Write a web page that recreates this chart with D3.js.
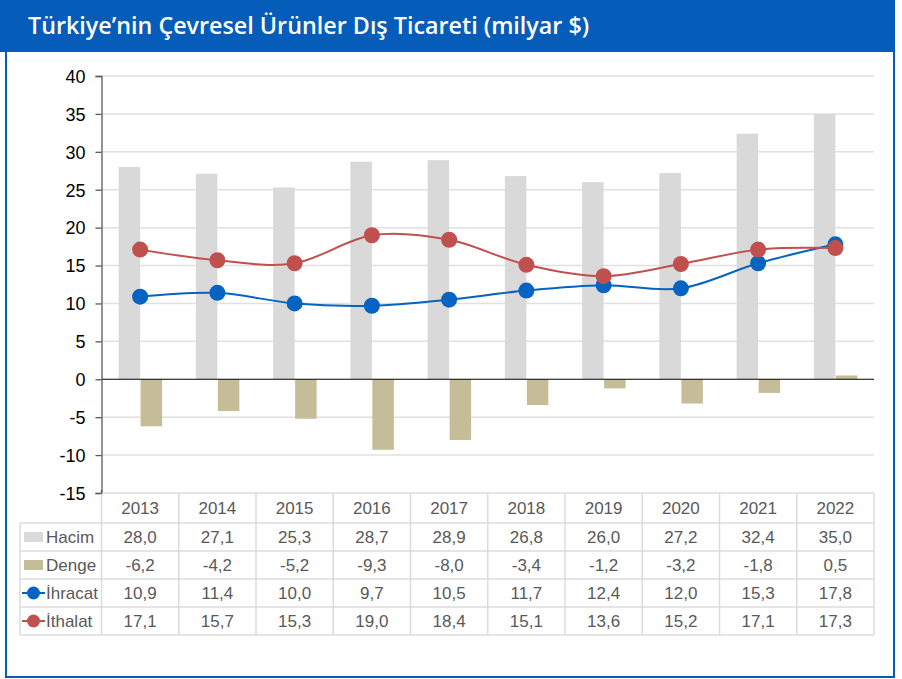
<!DOCTYPE html>
<html>
<head>
<meta charset="utf-8">
<script src="https://cdn.jsdelivr.net/npm/d3@7/dist/d3.min.js"></script>
<style>
  html, body { margin: 0; padding: 0; background: #fff; }
  svg { display: block; }
</style>
</head>
<body>
<svg id="chart" width="902" height="679"></svg>
<script>
// Türkiye'nin çevresel ürünler dış ticareti, milyar $
const years   = ["2013","2014","2015","2016","2017","2018","2019","2020","2021","2022"];
const hacim   = [28.0, 27.1, 25.3, 28.7, 28.9, 26.8, 26.0, 27.2, 32.4, 35.0];
const denge   = [-6.2, -4.2, -5.2, -9.3, -8.0, -3.4, -1.2, -3.2, -1.8, 0.5];
const ihracat = [10.9, 11.4, 10.0, 9.7, 10.5, 11.7, 12.4, 12.0, 15.3, 17.8];
const ithalat = [17.1, 15.7, 15.3, 19.0, 18.4, 15.1, 13.6, 15.2, 17.1, 17.3];
const yTicks  = [-15, -10, -5, 0, 5, 10, 15, 20, 25, 30, 35, 40];
const title   = "Türkiye’nin Çevresel Ürünler Dış Ticareti (milyar $)";

const colors = { frame: "#055cb9", hacim: "#d9d9d9", denge: "#c4bd97", ihracat: "#0563c1", ithalat: "#c0504d", grid: "#e0e0e0", text: "#595959" };

const svg = d3.select("#chart");
const fmt = v => v.toFixed(1).replace(".", ",");
const tFont = "'Liberation Sans', Arial, sans-serif";

// frame and header band
svg.append("rect").attr("x", 6).attr("y", 1).attr("width", 888).attr("height", 676)
  .attr("fill", "#fff").attr("stroke", colors.frame).attr("stroke-width", 2);
svg.append("rect").attr("x", 0).attr("y", 0).attr("width", 895).attr("height", 52).attr("fill", colors.frame);
svg.append("text").attr("x", 28).attr("y", 34)
  .attr("font-family", "'Open Sans', 'Noto Sans', sans-serif").attr("font-weight", 600)
  .attr("font-size", 23.3).attr("fill", "#fff").text(title);

// scales
const x = d3.scaleBand().domain(years).range([101.5, 874]);
const y = d3.scaleLinear().domain([-15, 40]).range([493, 76]);
const barW = 21.5;
const cx = d => x(d) + x.bandwidth() / 2;

// horizontal gridlines
svg.append("g").selectAll("line").data(yTicks.filter(t => t !== 0 && t !== -15)).join("line")
  .attr("x1", 101.5).attr("x2", 874).attr("y1", d => y(d)).attr("y2", d => y(d))
  .attr("stroke", colors.grid).attr("stroke-width", 1.5);

// Hacim bars
svg.append("g").selectAll("rect").data(years).join("rect")
  .attr("x", (d) => cx(d) - barW).attr("width", barW)
  .attr("y", (d, i) => y(Math.max(0, hacim[i])))
  .attr("height", (d, i) => Math.abs(y(hacim[i]) - y(0)))
  .attr("fill", colors.hacim);

// Denge bars
svg.append("g").selectAll("rect").data(years).join("rect")
  .attr("x", (d) => cx(d) + 0.5).attr("width", barW)
  .attr("y", (d, i) => y(Math.max(0, denge[i])))
  .attr("height", (d, i) => Math.abs(y(denge[i]) - y(0)))
  .attr("fill", colors.denge);

// zero line
svg.append("line").attr("x1", 101.5).attr("x2", 874).attr("y1", y(0)).attr("y2", y(0))
  .attr("stroke", "#000").attr("stroke-width", 1.2);

// y axis (plain hyphen for negatives)
const yAxis = d3.axisLeft(y).tickValues(yTicks).tickSize(6).tickPadding(10).tickFormat(d => String(d));
const ga = svg.append("g").attr("transform", "translate(101.5,0)").call(yAxis);
ga.select(".domain").attr("stroke", "#595959").attr("stroke-width", 1.3);
ga.selectAll(".tick line").attr("stroke", "#595959").attr("stroke-width", 1.3);
ga.selectAll(".tick text").attr("font-family", tFont)
  .attr("font-size", 18).attr("fill", "#000").attr("dy", "0.35em");

// smoothed series lines with markers
const line = d3.line().x((d, i) => cx(years[i])).y(d => y(d)).curve(d3.curveCatmullRom.alpha(0));
[[ihracat, colors.ihracat], [ithalat, colors.ithalat]].forEach(([vals, c]) => {
  svg.append("path").datum(vals).attr("d", line).attr("fill", "none")
    .attr("stroke", c).attr("stroke-width", 2);
});
[[ihracat, colors.ihracat], [ithalat, colors.ithalat]].forEach(([vals, c]) => {
  svg.append("g").selectAll("circle").data(vals).join("circle")
    .attr("cx", (d, i) => cx(years[i])).attr("cy", d => y(d)).attr("r", 8).attr("fill", c);
});

// data table
const rowTop = [493, 523, 551, 579, 607, 635];
const tg = svg.append("g");
const tableStroke = "#dcdcdc";
tg.append("line").attr("x1", 101.5).attr("x2", 874).attr("y1", 493).attr("y2", 493)
  .attr("stroke", tableStroke).attr("stroke-width", 1.5);
tg.selectAll("line.h").data(rowTop.slice(1)).join("line").attr("class", "h")
  .attr("x1", 20).attr("x2", 874).attr("y1", d => d).attr("y2", d => d)
  .attr("stroke", tableStroke).attr("stroke-width", 1.5);
const vx = years.map(d => x(d)).concat([874]);
tg.selectAll("line.v").data(vx).join("line").attr("class", "v")
  .attr("x1", d => d).attr("x2", d => d).attr("y1", 493).attr("y2", 635)
  .attr("stroke", tableStroke).attr("stroke-width", 1.5);
tg.append("line").attr("x1", 20).attr("x2", 20).attr("y1", 523).attr("y2", 635)
  .attr("stroke", tableStroke).attr("stroke-width", 1.5);
svg.append("line").attr("x1", 101.5).attr("x2", 101.5).attr("y1", 490).attr("y2", 494)
  .attr("stroke", "#595959").attr("stroke-width", 1.3);

// year header
tg.selectAll("text.yr").data(years).join("text").attr("class", "yr")
  .attr("x", d => cx(d)).attr("y", 514).attr("text-anchor", "middle")
  .attr("font-family", tFont).attr("font-size", 17).attr("fill", colors.text).text(d => d);

const rows = [
  { name: "Hacim", vals: hacim, color: colors.hacim, kind: "bar" },
  { name: "Denge", vals: denge, color: colors.denge, kind: "bar" },
  { name: "İhracat", vals: ihracat, color: colors.ihracat, kind: "line" },
  { name: "İthalat", vals: ithalat, color: colors.ithalat, kind: "line" }
];
rows.forEach((r, ri) => {
  const top = rowTop[ri + 1], mid = top + 14;
  if (r.kind === "bar") {
    tg.append("rect").attr("x", 24).attr("y", mid - 5).attr("width", 19).attr("height", 10).attr("fill", r.color);
  } else {
    tg.append("line").attr("x1", 22).attr("x2", 45).attr("y1", mid).attr("y2", mid)
      .attr("stroke", r.color).attr("stroke-width", 2);
    tg.append("circle").attr("cx", 33.5).attr("cy", mid).attr("r", 6.5).attr("fill", r.color);
  }
  tg.append("text").attr("x", 46).attr("y", mid + 6).attr("font-family", tFont)
    .attr("font-size", 17).attr("fill", colors.text).text(r.name);
  tg.selectAll(null).data(r.vals).join("text")
    .attr("x", (d, i) => cx(years[i])).attr("y", mid + 6).attr("text-anchor", "middle")
    .attr("font-family", tFont).attr("font-size", 17).attr("fill", colors.text).text(d => fmt(d));
});
</script>
</body>
</html>
